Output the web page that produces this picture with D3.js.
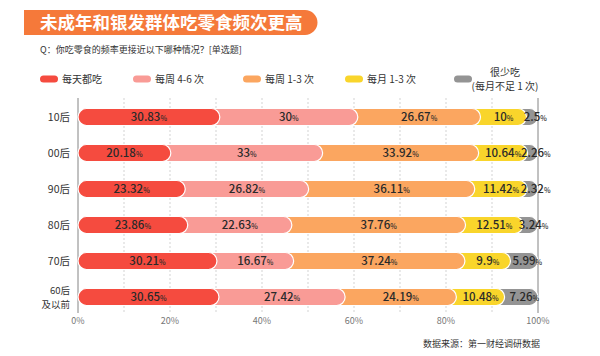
<!DOCTYPE html>
<html>
<head>
<meta charset="utf-8">
<script src="https://cdnjs.cloudflare.com/ajax/libs/d3/7.8.5/d3.min.js"></script>
<style>
  body { margin: 0; background: #fff; }
  svg { font-family: "Noto Sans CJK SC", "Noto Sans", sans-serif; }
</style>
</head>
<body>
<svg width="600" height="356"></svg>
<script>
const groups = ['10后', '00后', '90后', '80后', '70后', '60后\n及以前'];
const seriesNames = ['每天都吃', '每周 4-6 次', '每周 1-3 次', '每月 1-3 次', '很少吃\n(每月不足 1 次)'];
const daily   = [30.83, 20.18, 23.32, 23.86, 30.21, 30.65];
const weekly46 = [30, 33, 26.82, 22.63, 16.67, 27.42];
const weekly13 = [26.67, 33.92, 36.11, 37.76, 37.24, 24.19];
const monthly13 = [10, 10.64, 11.42, 12.51, 9.9, 10.48];
const rarely  = [2.5, 2.26, 2.32, 3.24, 5.99, 7.26];
const ticks = [0, 20, 40, 60, 80, 100];
const colors = ['#f54b3f', '#f99b96', '#fba660', '#f9d52b', '#949494'];

const series = [daily, weekly46, weekly13, monthly13, rarely];

const svg = d3.select('svg');

// title banner
const title = svg.append('g');
title.append('path')
  .attr('d', 'M24,10 H305 A12.5,12.5 0 0 1 305,35 H24 Z')
  .attr('fill', '#f5793a');
title.append('text')
  .attr('x', 40).attr('y', 28.5)
  .attr('fill', '#fff')
  .attr('font-size', 17.5).attr('font-weight', 'bold')
  .text('未成年和银发群体吃零食频次更高');

svg.append('text')
  .attr('x', 40).attr('y', 53)
  .attr('font-size', 9).attr('fill', '#333')
  .text('Q：你吃零食的频率更接近以下哪种情况？[单选题]');

// legend
const legendX = [40, 133, 243, 345, 454];
const legend = svg.append('g');
seriesNames.forEach((name, i) => {
  const g = legend.append('g').attr('transform', `translate(${legendX[i]},79)`);
  g.append('rect')
    .attr('x', 0).attr('y', -3.5)
    .attr('width', 18).attr('height', 7).attr('rx', 3.5)
    .attr('fill', colors[i]);
  const lines = name.split('\n');
  if (lines.length === 1) {
    g.append('text')
      .attr('x', 22).attr('y', 4)
      .attr('font-size', 10).attr('fill', '#333')
      .text(name);
  } else {
    g.append('text')
      .attr('x', 51).attr('y', -3)
      .attr('text-anchor', 'middle')
      .attr('font-size', 10).attr('fill', '#333')
      .text(lines[0]);
    g.append('text')
      .attr('x', 51).attr('y', 11)
      .attr('text-anchor', 'middle')
      .attr('font-size', 10).attr('fill', '#333')
      .text(lines[1]);
  }
});

// scales
const x = d3.scaleLinear().domain([0, 100]).range([78, 538]);
const y = d3.scaleBand().domain(groups).range([99, 315]).paddingInner(0.52).paddingOuter(0.26);
const bh = 17;

// gridlines
svg.append('g')
  .selectAll('line')
  .data(d3.range(10, 100, 10))
  .join('line')
    .attr('x1', d => x(d)).attr('x2', d => x(d))
    .attr('y1', 98).attr('y2', 313)
    .attr('stroke', '#c8c8c8')
    .attr('stroke-width', 0.8)
    .attr('stroke-dasharray', '2,2');

[0, 100].forEach(v => {
  svg.append('line')
    .attr('x1', x(v)).attr('x2', x(v))
    .attr('y1', 98).attr('y2', 313)
    .attr('stroke', '#777').attr('stroke-width', 0.9);
});

// axis labels
svg.append('g')
  .selectAll('text')
  .data(ticks)
  .join('text')
    .attr('x', d => x(d)).attr('y', 324)
    .attr('text-anchor', 'middle')
    .attr('font-size', 9).attr('fill', '#777')
    .text(d => d + '%');

// y labels (one text per line)
groups.forEach(gname => {
  const lines = gname.split('\n');
  const cy = y(gname) + y.bandwidth() / 2;
  lines.forEach((ln, j) => {
    svg.append('text')
      .attr('text-anchor', 'end')
      .attr('font-size', lines.length > 1 ? 9.5 : 10.5)
      .attr('fill', '#333')
      .attr('x', 70)
      .attr('y', cy + 3.5 + (j - (lines.length - 1) / 2) * 14)
      .text(ln);
  });
});

// bars
groups.forEach((gname, gi) => {
  const cy = y(gname) + y.bandwidth() / 2;
  let acc = 0;
  const segs = series.map((s, si) => {
    const start = acc;
    acc += s[gi];
    return { si, start, end: acc, value: s[gi] };
  });
  const row = svg.append('g');
  row.selectAll('rect')
    .data(segs.slice().reverse())
    .join('rect')
      .attr('x', d => d.si === 0 ? x(0) : x(d.start) - bh)
      .attr('y', cy - bh / 2)
      .attr('width', d => d.si === 0 ? x(d.end) - x(0) : x(d.end) - x(d.start) + bh)
      .attr('height', bh)
      .attr('rx', bh / 2)
      .attr('fill', d => colors[d.si])
      .attr('stroke', '#fff')
      .attr('stroke-width', 1.2);

  row.selectAll('text')
    .data(segs)
    .join('text')
      .attr('x', d => x((d.start + d.end) / 2) + (d.si === 4 ? 3 : 0))
      .attr('y', cy + 4)
      .attr('text-anchor', 'middle')
      .attr('fill', '#2a2a2a')
      .attr('font-size', 11.5)
      .attr('font-weight', 500)
      .call(t => {
        t.append('tspan').text(d => d.value);
        t.append('tspan').attr('font-size', 7).text('%');
      });
});

svg.append('text')
  .attr('x', 540).attr('y', 347)
  .attr('text-anchor', 'end')
  .attr('font-size', 9).attr('fill', '#333')
  .text('数据来源：第一财经调研数据');
</script>
</body>
</html>
